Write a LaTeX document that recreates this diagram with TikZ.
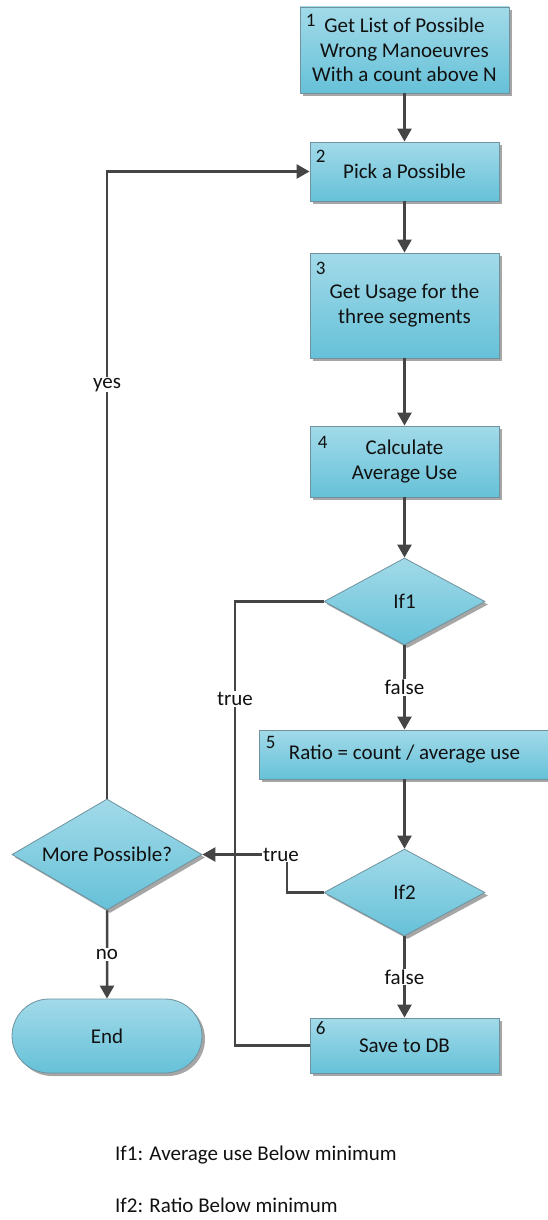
\documentclass[tikz,border=0pt]{standalone}
\usepackage{fontspec}
\setmainfont{Carlito}
\usetikzlibrary{arrows.meta,shapes.geometric,shapes.misc,shadows}
\definecolor{topc}{HTML}{A2DAE9}
\definecolor{botc}{HTML}{66C1D8}
\definecolor{edgec}{HTML}{6F929E}
\definecolor{linec}{HTML}{454545}
\definecolor{txt}{HTML}{111111}
\tikzset{
  shade/.style={top color=topc, bottom color=botc, draw=edgec, line width=0.8pt,
    drop shadow={shadow xshift=3pt, shadow yshift=-3pt, fill=black!35, opacity=1}},
  stepbox/.style={shade, rectangle, align=center, inner sep=0pt, text=txt,
    font=\fontsize{21}{24.5}\selectfont},
  decision/.style={shade, diamond, inner sep=0pt, text=txt,
    font=\fontsize{21}{24.5}\selectfont},
  terminal/.style={shade, rounded rectangle, inner sep=0pt, text=txt,
    font=\fontsize{21}{24.5}\selectfont},
  num/.style={text=txt, inner sep=0pt, font=\fontsize{19}{22}\selectfont},
  lbl/.style={fill=white, text=txt, inner sep=1pt, font=\fontsize{21}{24}\selectfont},
  conn/.style={draw=linec, line width=2.5pt},
  arr/.style={conn, -{Triangle[length=13pt,width=14pt]}},
  note/.style={text=txt, inner sep=0pt, anchor=west, font=\fontsize{21}{24}\selectfont}
}
\begin{document}
\begin{tikzpicture}[x=1pt,y=-1pt]
\useasboundingbox (0,0) rectangle (547,1220);
% process boxes
\node[stepbox, minimum width=209pt, minimum height=86pt] (b1) at (404.5,50)
  {Get List of Possible\\Wrong Manoeuvres\\With a count above N};
\node[stepbox, minimum width=189pt, minimum height=59pt] (b2) at (404.5,171.5)
  {Pick a Possible};
\node[stepbox, minimum width=189pt, minimum height=105pt] (b3) at (404.5,305.5)
  {Get Usage for the\\three segments};
\node[stepbox, minimum width=189pt, minimum height=71pt] (b4) at (404.5,461.5)
  {Calculate\\Average Use};
\node[decision, shape aspect=1.85, minimum width=161pt, minimum height=87pt] (if1) at (404.5,601.5) {If1};
\node[stepbox, minimum width=291pt, minimum height=49pt] (b5) at (404.5,754.5)
  {Ratio = count / average use};
\node[decision, shape aspect=1.85, minimum width=161pt, minimum height=87pt] (if2) at (404.5,892.5) {If2};
\node[stepbox, minimum width=189pt, minimum height=55pt] (b6) at (404.5,1045.5)
  {Save to DB};
\node[decision, shape aspect=1.71, minimum width=190pt, minimum height=111pt] (mp) at (107,854.5) {More Possible?};
\node[terminal, minimum width=190pt, minimum height=74pt] (end) at (107,1036) {End};
% step numbers
\node[num] (n1) at ([shift={(11,14)}]b1.north west) {1};
\node[num] (n2) at ([shift={(11,15)}]b2.north west) {2};
\node[num] (n3) at ([shift={(11,16)}]b3.north west) {3};
\node[num] (n4) at ([shift={(13,17)}]b4.north west) {4};
\node[num] (n5) at ([shift={(12,13)}]b5.north west) {5};
\node[num] (n6) at ([shift={(11,11)}]b6.north west) {6};
% corner points
\coordinate (c1) at (235,601.5);
\coordinate (c2) at (235,1045.5);
\coordinate (c3) at (287,892.5);
\coordinate (c4) at (287,854.5);
% connectors
\draw[arr] (b1) -- (b2);
\draw[arr] (b2) -- (b3);
\draw[arr] (b3) -- (b4);
\draw[arr] (b4) -- (if1);
\draw[arr] (if1) -- node[lbl] {false} (b5);
\draw[arr] (b5) -- (if2);
\draw[arr] (if2) -- node[lbl] {false} (b6);
\draw[conn] (if1.west) -- (c1) -- node[lbl, pos=0.22] {true} (c2) -- (b6.west);
\draw[arr] (if2.west) -- (c3) -- (c4) -- (mp.east);
\node[lbl] (t2) at (281,854.5) {true};
\draw[arr] (mp.north) |- node[lbl, pos=0.33] {yes} (b2.west);
\draw[arr] (mp) -- node[lbl] {no} (end);
% notes
\node[note] (note1) at (115,1155) {If1: Average use Below minimum};
\node[note] (note2) at (115,1205) {If2: Ratio Below minimum};
\end{tikzpicture}
\end{document}
